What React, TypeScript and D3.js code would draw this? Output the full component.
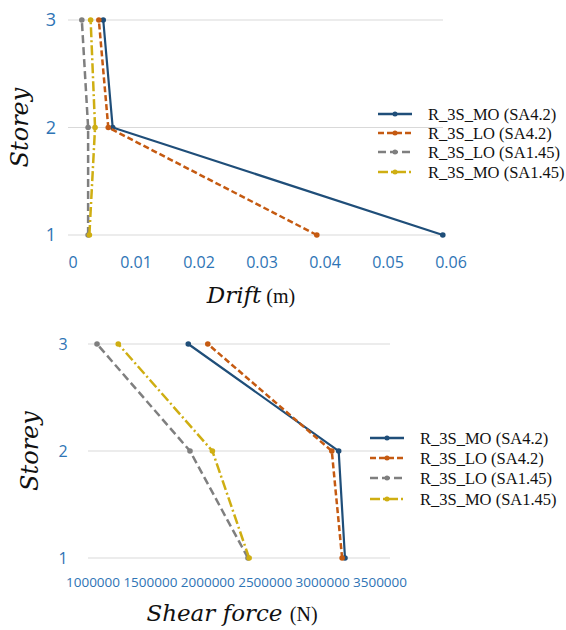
import React from 'react';
import * as d3 from 'd3';

const storeys = [1, 2, 3];
const seriesNames = ['R_3S_MO (SA4.2)', 'R_3S_LO (SA4.2)', 'R_3S_LO (SA1.45)', 'R_3S_MO (SA1.45)'];
const seriesColors = ['#1F4E79', '#C55A11', '#7F7F7F', '#CFAE12'];
const seriesDash = ['none', '6,3', '8,4', '10,3,2,3'];

// values per storey 1, 2, 3
const driftMO42 = [0.0587, 0.0063, 0.0048];
const driftLO42 = [0.0387, 0.0056, 0.0041];
const driftLO145 = [0.0024, 0.0024, 0.0014];
const driftMO145 = [0.0026, 0.0035, 0.0028];

const shearMO42 = [3195000, 3140000, 1830000];
const shearLO42 = [3170000, 3080000, 2000000];
const shearLO145 = [2350000, 1845000, 1035000];
const shearMO145 = [2360000, 2040000, 1220000];

const driftTicks = [0, 0.01, 0.02, 0.03, 0.04, 0.05, 0.06];
const shearTicks = [1000000, 1500000, 2000000, 2500000, 3000000, 3500000];

interface PanelProps {
    series: number[][];
    x: d3.ScaleLinear<number, number>;
    y: d3.ScaleLinear<number, number>;
    ticks: number[];
    fmt: (v: number) => string;
    tickSize: number;
    tickY: number;
    ySize: number;
    yLabelX: number;
    gridX: [number, number];
    legendX: number;
    legendRows: number[];
    storeyX: number;
    titleY: number;
    titleX: number;
    title: string;
    unit: string;
}

function Panel(p: PanelProps) {
    const line = d3.line<number>()
        .x((d) => p.x(d))
        .y((_, i) => p.y(storeys[i]));

    return (
        <g>
            {storeys.map((s) => (
                <line key={s} x1={p.gridX[0]} x2={p.gridX[1]} y1={p.y(s)} y2={p.y(s)}
                    stroke="#D9D9D9" strokeWidth={1.2} />
            ))}
            {storeys.map((s) => (
                <text key={s} x={p.yLabelX} y={p.y(s)} dy="0.35em" textAnchor="middle"
                    fontFamily="'Open Sans', sans-serif" fontSize={p.ySize} fill="#2E74B5">{s}</text>
            ))}
            {p.ticks.map((t) => (
                <text key={t} x={p.x(t)} y={p.tickY} dy="0.35em" textAnchor="middle"
                    fontFamily="'Open Sans', sans-serif" fontSize={p.tickSize} fill="#2E74B5">{p.fmt(t)}</text>
            ))}
            {p.series.map((vals, i) => (
                <g key={i}>
                    <path d={line(vals) || ''} fill="none" stroke={seriesColors[i]} strokeWidth={i === 0 ? 2.2 : 2.5}
                        strokeDasharray={seriesDash[i]} />
                    {vals.map((v, j) => (
                        <circle key={j} cx={p.x(v)} cy={p.y(storeys[j])} r={2.8} fill={seriesColors[i]} />
                    ))}
                </g>
            ))}
            {seriesNames.map((name, i) => (
                <g key={name} transform={`translate(${p.legendX},${p.legendRows[i]})`}>
                    <line x1={0} x2={34} y1={0} y2={0} stroke={seriesColors[i]} strokeWidth={2.5}
                        strokeDasharray={seriesDash[i]} />
                    <circle cx={17} cy={0} r={2.5} fill={seriesColors[i]} />
                    <text x={50} y={0} dy="0.35em" fontFamily="'Liberation Serif', serif" fontSize={16.5}
                        fill="#111">{name}</text>
                </g>
            ))}
            <text transform={`translate(${p.storeyX},${p.y(2)}) rotate(-90)`} textAnchor="middle" dy="0.35em"
                fontFamily="'DejaVu Serif', serif" fontStyle="italic" fontSize={24} fill="#111">Storey</text>
            <text x={p.titleX} y={p.titleY} textAnchor="middle" fontFamily="'DejaVu Serif', serif" fill="#111">
                <tspan fontStyle="italic" fontSize={23}>{p.title}</tspan>
                <tspan fontFamily="'Liberation Serif', serif" fontSize={20}>{p.unit}</tspan>
            </text>
        </g>
    );
}

export default function App() {
    const xDrift = d3.scaleLinear().domain([0, 0.06]).range([73, 451]);
    const yDrift = d3.scaleLinear().domain([1, 3]).range([235, 20]);
    const xShear = d3.scaleLinear().domain([1000000, 3500000]).range([93, 380]);
    const yShear = d3.scaleLinear().domain([1, 3]).range([558, 344]);
    const fmtDrift = (v: number) => (v === 0 ? '0' : d3.format('.2f')(v));
    const fmtShear = d3.format('d');

    return (
        <svg width={566} height={630} style={{ position: 'absolute', left: 0, top: 0, background: '#fff' }}>
            <Panel series={[driftMO42, driftLO42, driftLO145, driftMO145]} x={xDrift} y={yDrift}
                ticks={driftTicks} fmt={fmtDrift} tickSize={16} tickY={262} ySize={18} yLabelX={51}
                gridX={[68, 443]} legendX={378} legendRows={[114, 133, 152, 172]} storeyX={20}
                titleY={303} titleX={251} title="Drift" unit=" (m)" />
            <Panel series={[shearMO42, shearLO42, shearLO145, shearMO145]} x={xShear} y={yShear}
                ticks={shearTicks} fmt={fmtShear} tickSize={13.5} tickY={582} ySize={16} yLabelX={63}
                gridX={[88, 390]} legendX={370} legendRows={[438, 458, 478, 499]} storeyX={30}
                titleY={621} titleX={232} title="Shear force " unit="(N)" />
        </svg>
    );
}
